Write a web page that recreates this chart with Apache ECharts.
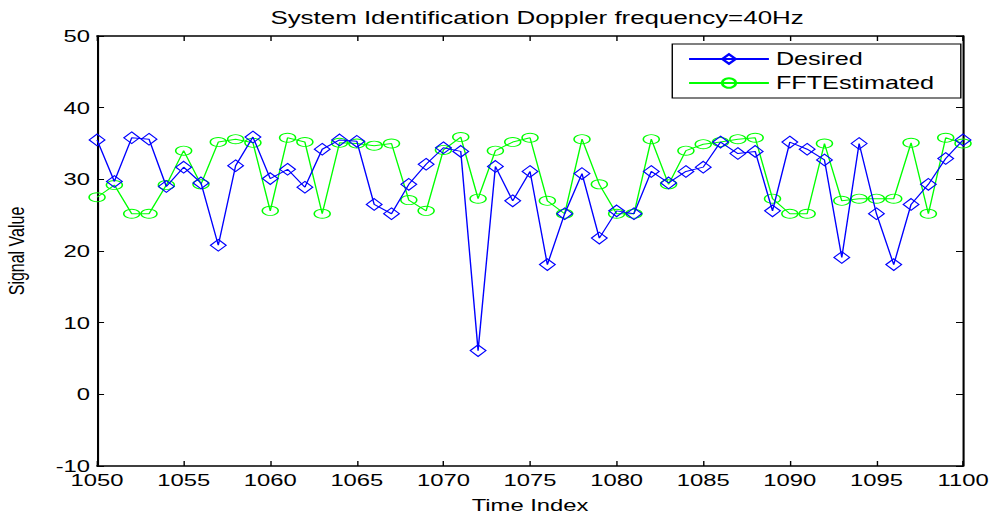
<!DOCTYPE html>
<html><head><meta charset="utf-8">
<script src="https://cdn.jsdelivr.net/npm/echarts@6/dist/echarts.min.js"></script>
<style>
html,body{margin:0;padding:0;background:#fff;overflow:hidden;width:993px;height:515px}
#c{width:709px;height:515px;transform:scaleX(1.40056);transform-origin:0 0}
</style>
</head><body><div id="c"></div>
<script>
const timeIndex = [1050,1051,1052,1053,1054,1055,1056,1057,1058,1059,1060,1061,1062,1063,1064,1065,1066,1067,1068,1069,1070,1071,1072,1073,1074,1075,1076,1077,1078,1079,1080,1081,1082,1083,1084,1085,1086,1087,1088,1089,1090,1091,1092,1093,1094,1095,1096,1097,1098,1099,1100];
const desired = [35.5,29.7,35.8,35.6,29.0,31.7,29.5,20.8,31.9,35.9,30.1,31.4,28.9,34.2,35.5,35.3,26.5,25.2,29.3,32.1,34.4,33.9,6.1,31.8,27.0,31.1,18.1,25.2,30.8,21.8,25.6,25.2,31.1,29.5,31.1,31.7,35.2,33.6,33.9,25.6,35.2,34.2,32.7,19.1,35.0,25.2,18.1,26.5,29.3,32.9,35.5];
const fftEstimated = [27.5,29.2,25.2,25.2,29.2,34.0,29.3,35.2,35.6,35.1,25.6,35.8,35.2,25.2,35.1,35.0,34.7,35.0,27.1,25.6,34.1,35.9,27.3,34.0,35.2,35.8,27.0,25.2,35.6,29.3,25.2,25.2,35.6,29.3,34.0,34.9,35.2,35.6,35.8,27.3,25.2,25.2,35.0,27.0,27.3,27.3,27.3,35.1,25.2,35.8,35.0];
const titleText = 'System Identification Doppler frequency=40Hz';
const seriesNames = ['Desired','FFTEstimated'];
const xName = 'Time Index';
const yName = 'Signal Value';

const font = 'Liberation Sans, Arial, Helvetica, sans-serif';
const chart = echarts.init(document.getElementById('c'), null, {renderer:'svg'});
const pair = arr => timeIndex.map((t,i)=>[t, arr[i]]);
const tickIn = {show:true, inside:true, length:5, lineStyle:{color:'#000',width:1}};
const axLine = {show:true, onZero:false, lineStyle:{color:'#000',width:1.5}};
const gridLeft = 69.3, gridRight = 21.4;
chart.setOption({
  animation:false,
  backgroundColor:'#fff',
  title:{text:titleText,left:(gridLeft + (709-gridRight))/2,textAlign:'center',top:3,
    textStyle:{fontFamily:font,fontSize:18.5,fontWeight:'normal',color:'#000'}},
  grid:{left:gridLeft,right:gridRight,top:36,bottom:49,containLabel:false,outerBoundsMode:'none'},
  legend:{orient:'vertical',left:480,top:44,padding:[6,19,6,11],itemGap:6,itemWidth:57,itemHeight:12,
    borderColor:'#000',borderWidth:1,backgroundColor:'#fff',
    textStyle:{fontFamily:font,fontSize:18,lineHeight:18,color:'#000'},data:seriesNames},
  xAxis:[
    {type:'value',min:1050,max:1100,interval:5,name:xName,nameLocation:'middle',nameGap:30,
     nameTextStyle:{fontFamily:font,fontSize:17,color:'#000'},
     axisLine:axLine,axisTick:tickIn,splitLine:{show:false},
     axisLabel:{fontFamily:font,fontSize:17,lineHeight:14,color:'#000',margin:7,formatter:v=>String(v)}},
    {type:'value',position:'top',min:1050,max:1100,interval:5,axisLine:axLine,axisTick:tickIn,axisLabel:{show:false},splitLine:{show:false}}
  ],
  yAxis:[
    {type:'value',min:-10,max:50,interval:10,name:yName,nameLocation:'middle',nameGap:50,
     nameTextStyle:{fontFamily:font,fontSize:16,color:'#000'},
     axisLine:axLine,axisTick:tickIn,splitLine:{show:false},
     axisLabel:{fontFamily:font,fontSize:17,lineHeight:13,color:'#000',margin:5}},
    {type:'value',position:'right',min:-10,max:50,interval:10,axisLine:axLine,axisTick:tickIn,axisLabel:{show:false},splitLine:{show:false}}
  ],
  series:[
    {name:seriesNames[0],type:'line',data:pair(desired),symbol:'diamond',symbolSize:[11.2,11.7],
     lineStyle:{color:'#0000ff',width:1},itemStyle:{color:'rgba(255,255,255,0)',borderColor:'#0000ff',borderWidth:1},z:3},
    {name:seriesNames[1],type:'line',data:pair(fftEstimated),symbol:'circle',symbolSize:[11.4,9],
     lineStyle:{color:'#00ff00',width:1},itemStyle:{color:'rgba(255,255,255,0)',borderColor:'#00ff00',borderWidth:1},z:2}
  ]
});
</script></body></html>
